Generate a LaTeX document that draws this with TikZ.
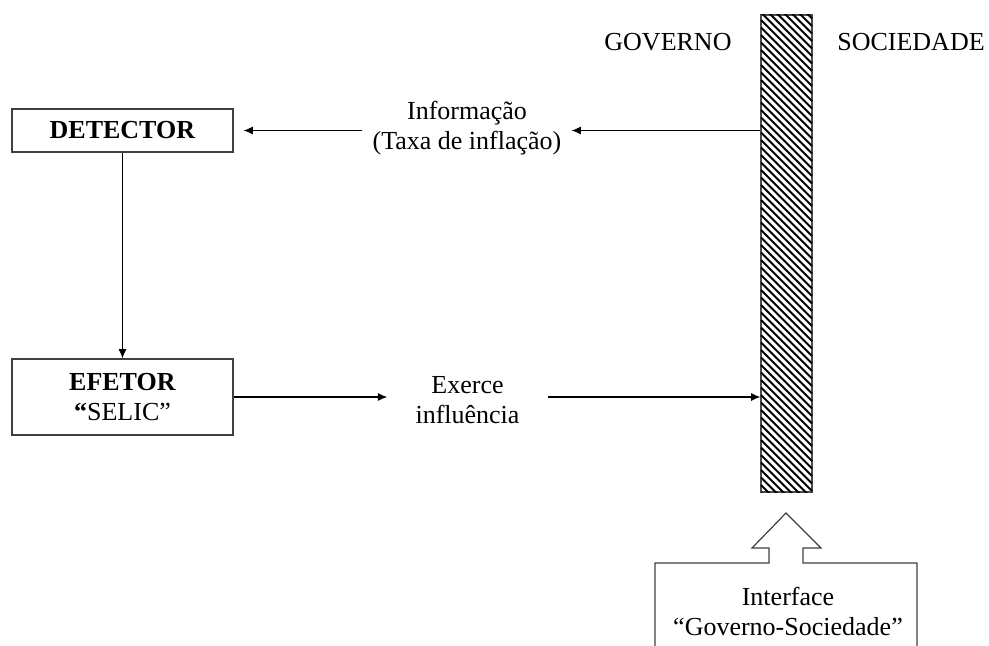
\documentclass[tikz,border=0pt]{standalone}
\usepackage{fontspec}
\setmainfont{Liberation Serif}
\usetikzlibrary{arrows.meta,positioning}

\tikzset{
    bloco/.style={draw=black!75,line width=0.9pt,minimum width=165.75pt,align=center,inner sep=0pt},
    rotulo/.style={align=center,inner sep=0pt},
    seta/.style={-{Latex[length=7pt,width=6pt]},line width=0.8pt}
}

\begin{document}
\begin{tikzpicture}[x=0.75pt,y=-0.75pt,font=\fontsize{19.5pt}{22.5pt}\selectfont]
    \useasboundingbox (0,0) rectangle (989,646);

    % Sides
    \node[rotulo] (gov) at (668,42) {GOVERNO};
    \node[rotulo] (soc) at (911,42) {SOCIEDADE};

    % Hatched wall
    \node[draw=black!70,line width=0.9pt,minimum width=38.25pt,minimum height=357.75pt,inner sep=0pt] (bar) at (786.5,253.5) {};
    \begin{scope}
        \clip (bar.south west) rectangle (bar.north east);
        \foreach \k in {0,...,74}
            \draw[line width=1.35pt] (761,-40+7.5*\k) -- ++(51,51);
    \end{scope}

    % Blocks
    \node[bloco,minimum height=32.25pt] (det) at (122.5,130.5) {\textbf{DETECTOR}};
    \node[bloco,minimum height=57pt] (efe) at (122.5,397) {\textbf{EFETOR}\\\textbf{“}SELIC”};

    % Labels
    \node[rotulo,inner xsep=7.5pt] (info) at (467,128) {Informação\\(Taxa de inflação)};
    \node[rotulo,inner xsep=21pt] (exer) at (467.5,400) {Exerce\\influência};

    % Connectors
    \draw[seta] (bar.west |- det.east) -- (det.east -| info.east);
    \draw[seta] (det.east -| info.west) -- ([xshift=7.5pt]det.east);
    \draw[seta] (det.south) -- (efe.north);
    \draw[seta] (efe.east) -- (efe.east -| exer.west);
    \draw[seta] (efe.east -| exer.east) -- (efe.east -| bar.west);

    % Interface arrow and box
    \draw[draw=black!75,line width=0.9pt] (655,646) -- (655,563) -- (769,563) -- (769,548)
        -- (752,548) -- (786,513) -- (821,548) -- (803,548) -- (803,563) -- (917,563) -- (917,646);
    \node[rotulo] (iface) at (788,611) {Interface\\“Governo-Sociedade”};
\end{tikzpicture}
\end{document}
